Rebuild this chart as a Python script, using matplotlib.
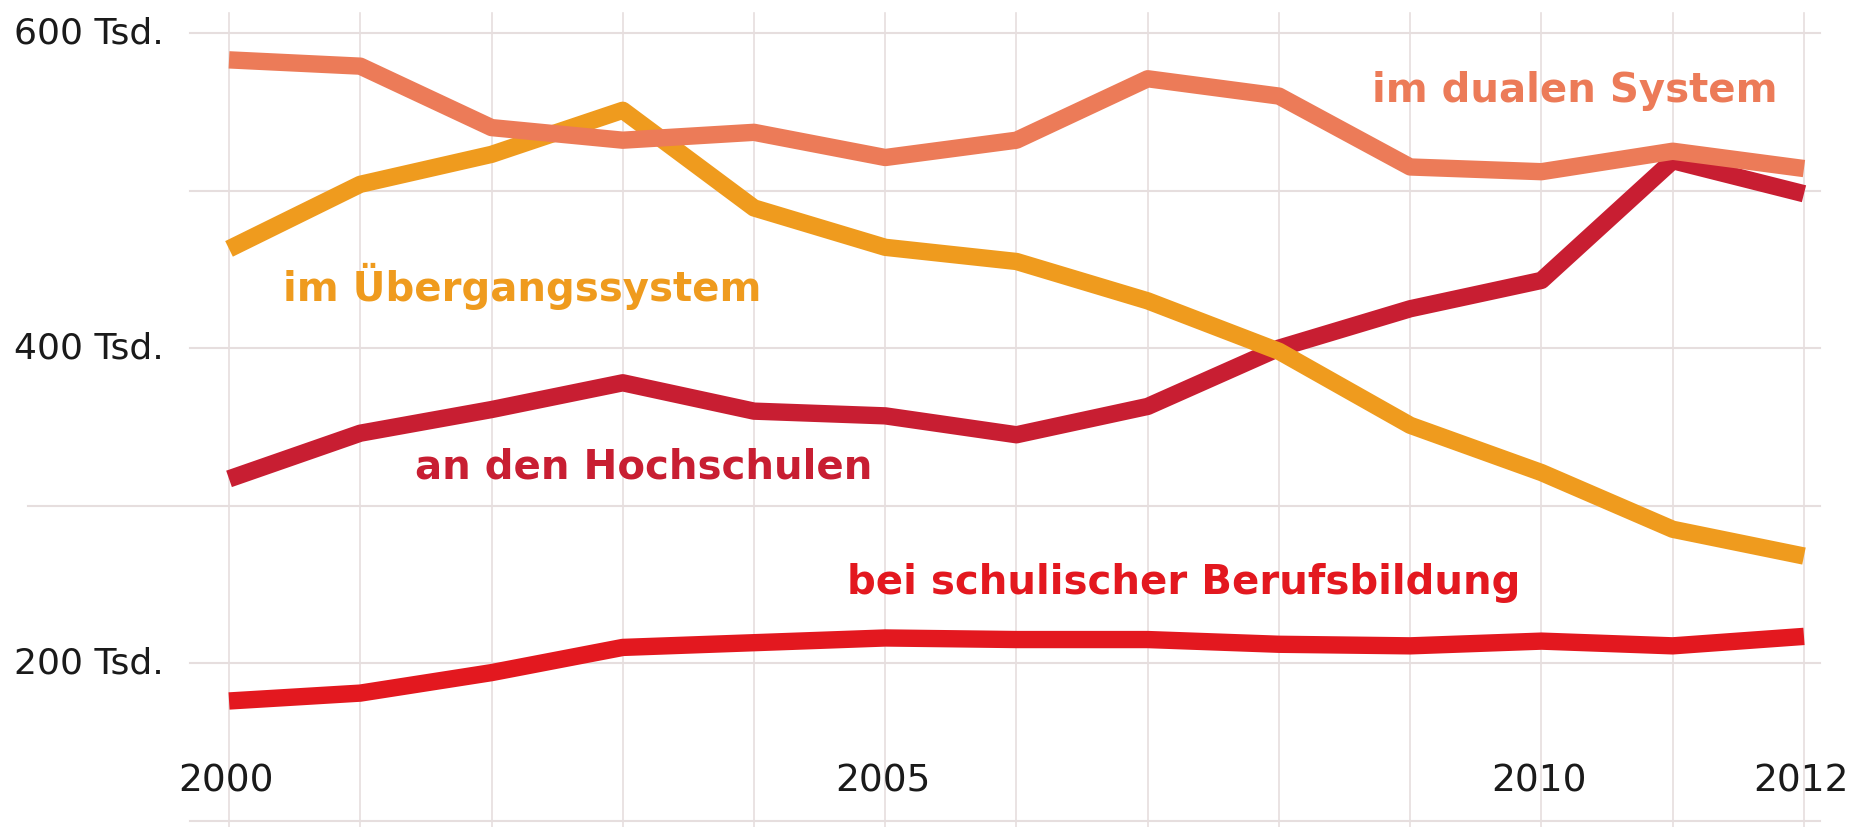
import matplotlib
matplotlib.use("Agg")
import matplotlib.pyplot as plt

# Data (thousands)
years = list(range(2000, 2013))

dual = [583, 579, 540, 532, 537, 521, 532, 571, 560, 515, 512, 525, 514]
uebergang = [463, 504, 523, 551, 489, 464, 455, 430, 398, 351, 321, 285, 268]
hochschule = [317, 346, 361, 378, 360, 357, 345, 363, 400, 425, 443, 519, 498]
schulisch = [176, 181, 194, 210, 213, 216, 215, 215, 212, 211, 214, 211, 217]

y_ticks = [600, 400, 200]
y_tick_labels = ["600 Tsd.", "400 Tsd.", "200 Tsd."]
grid_y = [600, 500, 400, 300, 200, 100]
x_tick_years = [2000, 2005, 2010, 2012]

series_labels = ["im dualen System", "im Übergangssystem",
                 "an den Hochschulen", "bei schulischer Berufsbildung"]

C_DUAL = "#EC7B58"
C_UEB = "#EF9B1E"
C_HOCH = "#C81E32"
C_SCHUL = "#E3181F"
GRID = "#E6DEDE"

fig = plt.figure(figsize=(18.65, 8.27), dpi=100)
ax = fig.add_axes([0, 0, 1, 1])
ax.set_xlim(1998.255, 2012.465)
ax.set_ylim(96, 621)
ax.axis("off")

# grid
for yr in years:
    ax.plot([yr, yr], [96, 613], color=GRID, lw=1.2, zorder=0)
for gy in grid_y:
    x0 = 1998.47 if gy == 300 else 1999.70
    ax.plot([x0, 2012.12], [gy, gy], color=GRID, lw=1.5, zorder=0)

# lines
LW = 12.5
ax.plot(years, schulisch, color=C_SCHUL, lw=LW, solid_capstyle="butt", zorder=2)
ax.plot(years, hochschule, color=C_HOCH, lw=LW, solid_capstyle="butt", zorder=3)
ax.plot(years, uebergang, color=C_UEB, lw=LW, solid_capstyle="butt", zorder=4)
ax.plot(years, dual, color=C_DUAL, lw=LW, solid_capstyle="butt", zorder=5)

# y labels
for v, lab in zip(y_ticks, y_tick_labels):
    ax.text(1998.36, v, lab, fontsize=26, color="#1a1a1a",
            ha="left", va="center", zorder=6)

# x labels
for yr in x_tick_years:
    ax.text(yr - 0.02, 125, str(yr), fontsize=27, color="#1a1a1a",
            ha="center", va="center", zorder=6)

# series labels
lab_kw = dict(fontsize=29, fontweight="bold", ha="left", va="center", zorder=6)
ax.text(2008.71, 563, series_labels[0], color=C_DUAL, **lab_kw)
ax.text(2000.41, 439, series_labels[1], color=C_UEB, **lab_kw)
ax.text(2001.42, 324, series_labels[2], color=C_HOCH, **lab_kw)
ax.text(2004.71, 251, series_labels[3], color=C_SCHUL, **lab_kw)

fig.savefig("out.png", dpi=100)
